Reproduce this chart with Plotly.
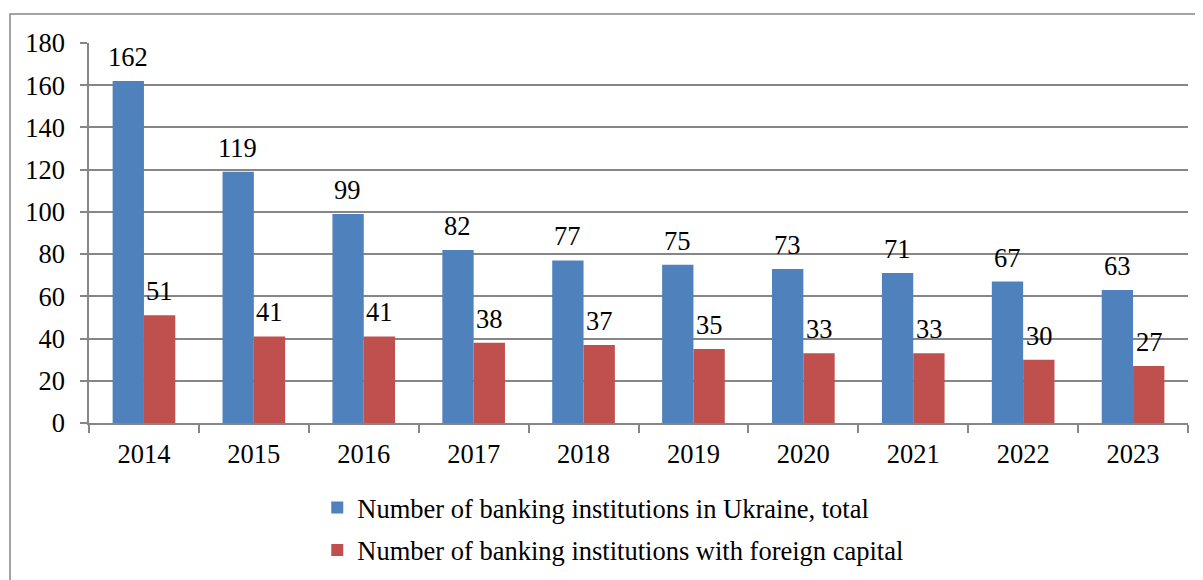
import plotly.graph_objects as go

years = ["2014", "2015", "2016", "2017", "2018", "2019", "2020", "2021", "2022", "2023"]
total_banks = [162, 119, 99, 82, 77, 75, 73, 71, 67, 63]
foreign_banks = [51, 41, 41, 38, 37, 35, 33, 33, 30, 27]
series_names = ["Number of banking institutions in Ukraine, total",
                "Number of banking institutions with foreign capital"]
y_ticks = [0, 20, 40, 60, 80, 100, 120, 140, 160, 180]

FONT = "Liberation Serif, Times New Roman, serif"
FS = 26.5
GRID = "#868686"

fig = go.Figure()
fig.add_trace(go.Bar(x=years, y=total_banks, name=series_names[0],
                     marker=dict(color="#4F81BD", line=dict(width=0)), legendgroup="a"))
fig.add_trace(go.Bar(x=years, y=foreign_banks, name=series_names[1],
                     marker=dict(color="#C0504D", line=dict(width=0)), legendgroup="b"))

for i, v in enumerate(total_banks):
    fig.add_annotation(x=i, y=v, text=str(v), showarrow=False, xshift=-16, yshift=7,
                       yanchor="bottom", font=dict(family=FONT, size=FS, color="black"))
for i, v in enumerate(foreign_banks):
    fig.add_annotation(x=i, y=v, text=str(v), showarrow=False, xshift=16, yshift=7,
                       yanchor="bottom", font=dict(family=FONT, size=FS, color="black"))

OFF = 8  # page body margin
W, H = 1203 - OFF, 580 - OFF
L, R, T, B = 89 - OFF, 15, 43 - OFF, 157
pw, ph = W - L - R, H - T - B
fig.add_shape(type="rect", xref="paper", yref="paper",
              x0=(10 - OFF - L) / pw, x1=1 + (R + 20) / pw,
              y0=-(B + 20) / ph, y1=1 + (T - (14 - OFF)) / ph,
              line=dict(color=GRID, width=1.5), layer="below")

fig.update_layout(
    width=W, height=H,
    margin=dict(l=L, r=R, t=T, b=B, pad=0, autoexpand=False),
    paper_bgcolor="white", plot_bgcolor="white",
    barmode="group", bargap=0.43, bargroupgap=0,
    font=dict(family=FONT, size=FS, color="black"),
    showlegend=True,
    legend=dict(orientation="v", x=0.2077, y=-0.16, xanchor="left", yanchor="top",
                font=dict(family=FONT, size=FS, color="black"),
                tracegroupgap=5, itemsizing="constant", bgcolor="rgba(0,0,0,0)"),
)
fig.update_xaxes(type="category", showline=True, linecolor=GRID, linewidth=1.5,
                 ticks="outside", tickson="boundaries", ticklen=8, tickcolor=GRID,
                 tickwidth=1.5, showgrid=False, tickfont=dict(family=FONT, size=FS),
                 tickangle=0, ticklabelstandoff=6)
fig.update_yaxes(range=[0, 180], tickvals=y_ticks, showline=True, linecolor=GRID,
                 linewidth=1.5, ticks="outside", ticklen=7, tickcolor=GRID, tickwidth=1.5,
                 showgrid=True, gridcolor=GRID, gridwidth=1.5, zeroline=False,
                 tickfont=dict(family=FONT, size=FS), ticklabelstandoff=10)

fig.write_html("out.html")
